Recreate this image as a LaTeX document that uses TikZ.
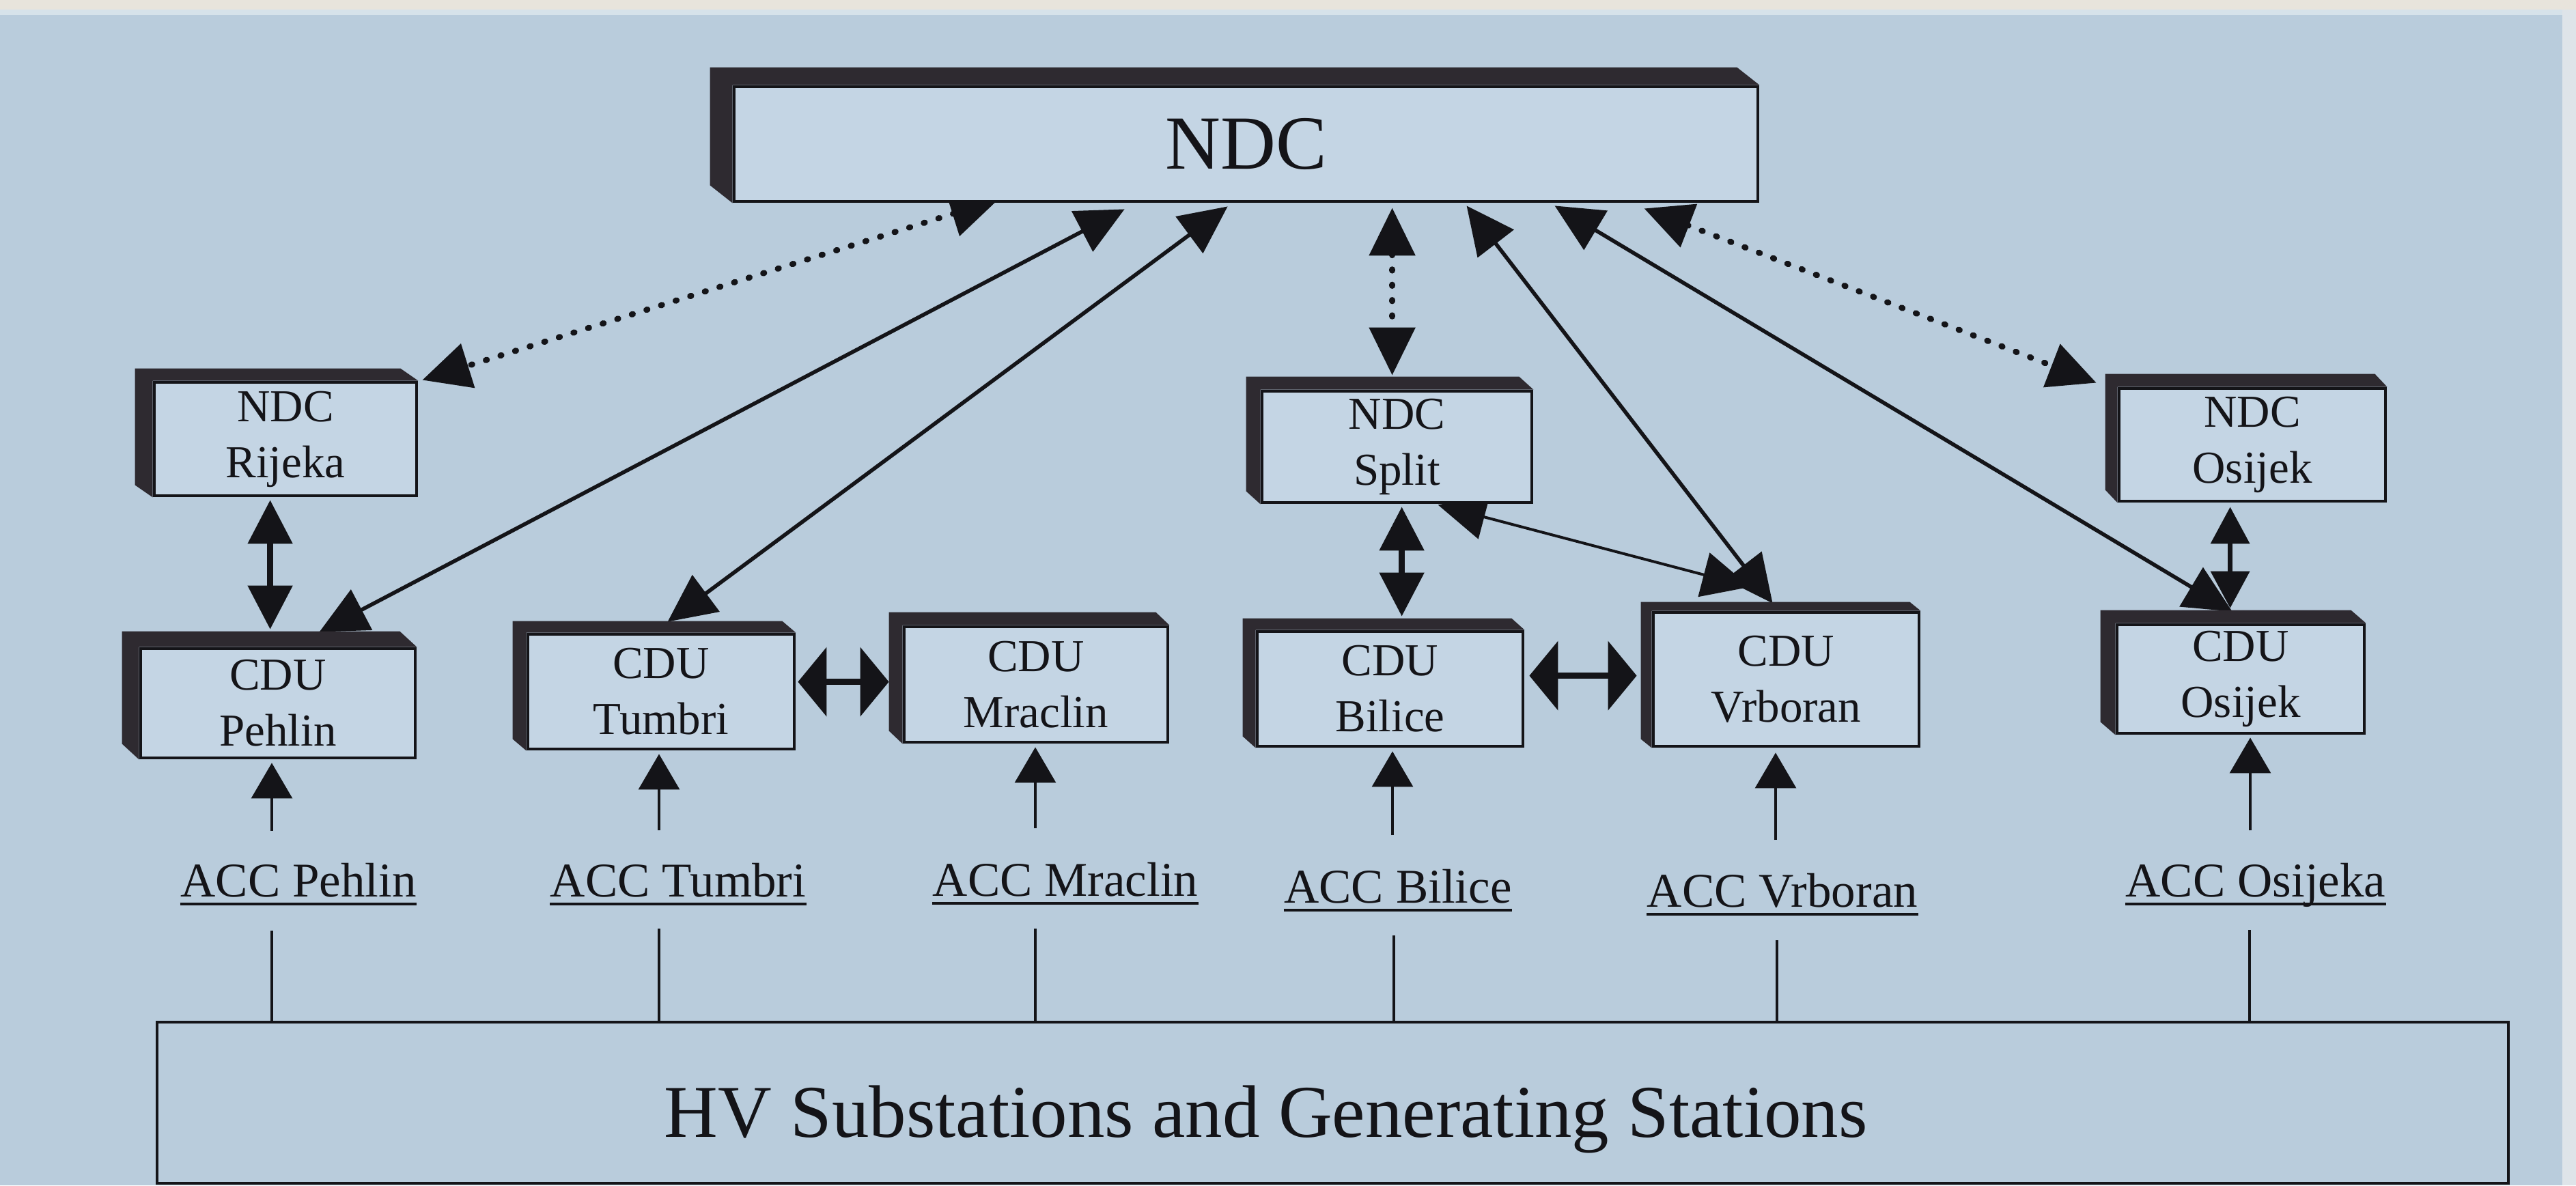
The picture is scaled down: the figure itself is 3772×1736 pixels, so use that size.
\documentclass[tikz,border=0pt]{standalone}
\usepackage{fontspec}
\setmainfont{Liberation Serif}
\usetikzlibrary{arrows.meta,calc}
\pgfdeclarelayer{back}\pgfdeclarelayer{arr}\pgfdeclarelayer{extr}
\pgfsetlayers{back,arr,extr,main}
\definecolor{bgc}{RGB}{185,204,220}
\definecolor{face}{RGB}{196,213,228}
\definecolor{dark}{RGB}{46,42,48}
\definecolor{ink}{RGB}{20,20,24}
\definecolor{paper}{RGB}{232,228,220}
\definecolor{paperb}{RGB}{214,226,234}
\definecolor{rim}{RGB}{222,228,233}
\newcommand\boxfont{\fontsize{16.75}{20.5}\selectfont}
\newcommand\ndcfont{\fontsize{28}{32}\selectfont}
\newcommand\hvfont{\fontsize{27.25}{31}\selectfont}
\newcommand\accfont{\fontsize{17.75}{20}\selectfont}
\newcommand\extr[3]{\fill[dark] ($(#1.north west)+(#2,#3)$) -- ($(#1.north east)+(#2,#3)$) -- (#1.north east) -- (#1.north west) -- (#1.south west) -- ($(#1.south west)+(#2,#3)$) -- cycle;}
\tikzset{
  fbox/.style={draw=ink, line width=1.2pt, fill=face, inner sep=0pt, align=center, font=\boxfont, text=ink},
  acc/.style={anchor=base, inner sep=0pt, font=\accfont, text=ink},
  ul/.style={draw=ink, line width=1.2pt},
  conn/.style={draw=ink, line width=1.4pt},
  thinconn/.style={draw=ink, line width=1pt},
  bold/.style={draw=ink, line width=2.2pt},
  dots/.style={draw=ink, line width=2.2pt, dash pattern=on 0.4pt off 5.2pt, line cap=round},
  accline/.style={draw=ink, line width=0.8pt},
  bigtips/.style={>={Triangle[length=17.5pt,width=16.5pt]}, <->},
  midtips/.style={>={Triangle[length=16pt,width=16pt]}, <->},
  smalltips/.style={>={Triangle[length=13.5pt,width=14pt]}, <->},
  flattips/.style={>={Triangle[length=10.5pt,width=25pt]}, <->},
  acctip/.style={-{Triangle[length=13pt,width=15pt]}}
}
\begin{document}
\begin{tikzpicture}[x=0.25pt,y=-0.25pt]
\begin{pgfonlayer}{back}
\fill[bgc] (0,0) rectangle (3772,1736);
\fill[paper] (0,0) rectangle (3772,14);
\fill[paperb] (0,14) rectangle (3772,22);
\fill[rim] (3752,14) rectangle (3772,1736);
\end{pgfonlayer}
\useasboundingbox (0,0) rectangle (3772,1736);

% boxes (front faces): centre, width and height in px (1px = 0.25pt)
\node[fbox, font=\ndcfont, minimum width=374.75pt, minimum height=42pt] (ndc) at (1824.5,211) {NDC};
\node[fbox, minimum width=96pt, minimum height=41.5pt] (rij) at (418,643) {NDC\\Rijeka};
\node[fbox, minimum width=100.5pt, minimum height=40pt] (peh) at (407,1030) {CDU\\Pehlin};
\node[fbox, minimum width=97.5pt, minimum height=42pt] (tum) at (968,1013) {CDU\\Tumbri};
\node[fbox, minimum width=96.5pt, minimum height=42.25pt] (mra) at (1517,1002.5) {CDU\\Mraclin};
\node[fbox, minimum width=98.75pt, minimum height=40.75pt] (spl) at (2045.5,654.5) {NDC\\Split};
\node[fbox, minimum width=97.25pt, minimum height=42pt] (bil) at (2035.5,1009) {CDU\\Bilice};
\node[fbox, minimum width=97.25pt, minimum height=49pt] (vrb) at (2615.5,995) {CDU\\Vrboran};
\node[fbox, minimum width=97.5pt, minimum height=41.25pt] (nos) at (3298,651.5) {NDC\\Osijek};
\node[fbox, minimum width=90.5pt, minimum height=39.75pt] (cos) at (3281,994.5) {CDU\\Osijek};
\node[draw=ink, line width=1pt, inner sep=0pt, minimum width=860.75pt, minimum height=59pt] (hv) at (1951.5,1615) {};
\node[anchor=base west, inner sep=0pt, font=\hvfont, text=ink] (hvt) at (972,1665) {HV Substations and Generating Stations};

% ACC labels
\node[acc] (accP) at (437,1313) {ACC Pehlin};
\node[acc] (accT) at (993,1313) {ACC Tumbri};
\node[acc] (accM) at (1560,1312) {ACC Mraclin};
\node[acc] (accB) at (2047,1322) {ACC Bilice};
\node[acc] (accV) at (2610,1328) {ACC Vrboran};
\node[acc] (accO) at (3303,1313) {ACC Osijeka};
\foreach \n in {accP,accT,accM,accB,accV,accO}{
  \draw[ul] ($(\n.base west)+(0,11)$) -- ($(\n.base east)+(0,11)$);
}

% extrusions
\begin{pgfonlayer}{extr}
\extr{ndc}{-33}{-26}
\extr{rij}{-26}{-18}
\extr{peh}{-25}{-23}
\extr{tum}{-20}{-17}
\extr{mra}{-20}{-19}
\extr{spl}{-21}{-19}
\extr{bil}{-19}{-17}
\extr{vrb}{-16}{-13}
\extr{nos}{-18}{-19}
\extr{cos}{-22}{-19}
\end{pgfonlayer}

% connectors
\begin{pgfonlayer}{arr}
\draw[dots, bigtips] ($(ndc.south west)+(389,-5)$) -- ($(rij.north east)+(6,-1)$);
\draw[conn, bigtips] ($(ndc.south west)+(574,9)$) -- ($(peh.north west)+(264,-22)$);
\draw[conn, bigtips] ($(ndc.south west)+(725,5)$) -- ($(tum.north west)+(207,-16)$);
\draw[dots, bigtips] ($(ndc.south west)+(966,7)$) -- ($(spl.north west)+(193,-21)$);
\draw[conn, bigtips] ($(ndc.south west)+(1075,4)$) -- ($(vrb.north west)+(177,-11)$);
\draw[conn, bigtips] ($(ndc.south west)+(1204,4)$) -- ($(cos.north west)+(171,-17)$);
\draw[dots, bigtips] ($(ndc.south west)+(1335,8)$) -- ($(nos.north west)+(-31,-6)$);
\draw[bold, midtips] ($(rij.south west)+(172,4)$) -- ($(peh.north west)+(192,-26)$);
\draw[bold, midtips] ($(spl.south west)+(207,4)$) -- ($(bil.north west)+(214,-20)$);
\draw[thinconn, bigtips] ($(spl.south west)+(260,1)$) -- ($(vrb.north west)+(144,-35)$);
\draw[bold, smalltips, line width=1.8pt] ($(nos.south west)+(165,6)$) -- ($(cos.north west)+(168,-22)$);
\draw[bold, flattips] ($(tum.north east)+(3,72)$) -- ($(mra.north west)+(-20,83)$);
\draw[bold, flattips] ($(bil.north east)+(7,67)$) -- ($(vrb.north west)+(-22,95)$);
% ACC arrows
\coordinate (aP) at (398,1217);
\coordinate (aT) at (965,1216);
\coordinate (aM) at (1516,1213);
\coordinate (aB) at (2039,1223);
\coordinate (aV) at (2600,1230);
\coordinate (aO) at (3295,1216);
\draw[accline, acctip] (aP) -- ($(aP |- peh.south)+(0,5)$);
\draw[accline, acctip] (aT) -- ($(aT |- tum.south)+(0,5)$);
\draw[accline, acctip] (aM) -- ($(aM |- mra.south)+(0,5)$);
\draw[accline, acctip] (aB) -- ($(aB |- bil.south)+(0,5)$);
\draw[accline, acctip] (aV) -- ($(aV |- vrb.south)+(0,7)$);
\draw[accline, acctip] (aO) -- ($(aO |- cos.south)+(0,4)$);
% ticks to HV box
\coordinate (tP) at (398,1363);
\coordinate (tT) at (965,1360);
\coordinate (tM) at (1516,1360);
\coordinate (tB) at (2041,1370);
\coordinate (tV) at (2602,1377);
\coordinate (tO) at (3294,1362);
\foreach \t in {tP,tT,tM,tB,tV,tO}{
  \draw[accline] (\t) -- (\t |- hv.north);
}
\end{pgfonlayer}
\end{tikzpicture}
\end{document}
